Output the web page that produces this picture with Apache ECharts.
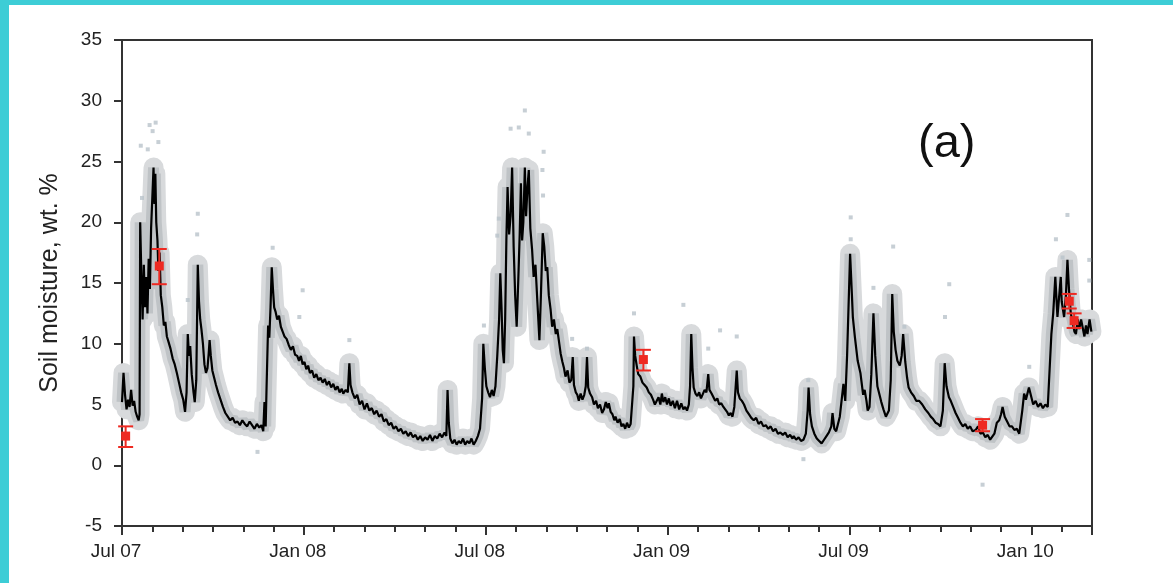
<!DOCTYPE html>
<html>
<head>
<meta charset="utf-8">
<script src="https://cdn.jsdelivr.net/npm/echarts@6/dist/echarts.min.js"></script>
<style>
  html, body { margin: 0; padding: 0; background: #fff; }
  #main { width: 1173px; height: 583px; }
</style>
</head>
<body>
<div id="main"></div>
<script>
var myChart = echarts.init(document.getElementById('main'));

// x = months since 1 Jul 2007, y = soil moisture (wt. %)
var monthLabels = { 0: 'Jul 07', 6: 'Jan 08', 12: 'Jul 08', 18: 'Jan 09', 24: 'Jul 09', 30: 'Jan 10' };

var sensorMean = [
	[0.00,5.2],[0.05,7.6],[0.10,5.8],[0.15,4.6],[0.20,5.4],[0.25,4.8],[0.30,6.2],[0.35,4.9],[0.40,5.3],[0.45,4.4],
	[0.50,4.0],[0.55,3.7],[0.58,4.2],[0.60,20.0],[0.64,15.5],[0.68,12.0],[0.72,16.5],[0.76,13.0],[0.80,15.5],[0.84,12.5],
	[0.88,17.0],[0.92,14.5],[0.96,19.5],[1.00,22.0],[1.04,24.5],[1.07,21.5],[1.10,24.0],[1.13,20.0],[1.17,18.5],[1.20,16.0],
	[1.24,17.5],[1.28,14.0],[1.33,13.0],[1.38,11.5],[1.43,11.8],[1.48,10.6],[1.53,10.2],[1.60,9.6],[1.67,8.8],[1.74,8.3],
	[1.81,7.6],[1.88,6.8],[1.95,6.0],[2.02,5.4],[2.08,4.4],[2.13,6.0],[2.17,10.8],[2.21,9.0],[2.25,9.8],[2.30,7.5],
	[2.36,6.0],[2.40,5.2],[2.45,7.0],[2.50,16.5],[2.54,13.5],[2.58,12.0],[2.62,11.2],[2.67,10.0],[2.72,8.3],[2.77,7.6],
	[2.82,8.0],[2.86,9.2],[2.89,10.3],[2.93,9.0],[2.98,7.8],[3.04,7.2],[3.10,6.6],[3.17,6.0],[3.25,5.4],[3.33,4.8],
	[3.41,4.3],[3.49,4.0],[3.57,3.7],[3.65,3.9],[3.73,3.5],[3.81,3.6],[3.89,3.3],[3.97,3.7],[4.05,3.4],[4.13,3.2],
	[4.21,3.6],[4.29,3.3],[4.37,3.0],[4.45,3.4],[4.53,3.1],[4.60,3.3],[4.66,2.8],[4.70,5.2],[4.74,3.2],[4.77,6.5],
	[4.82,11.5],[4.86,10.5],[4.90,13.0],[4.94,16.3],[4.98,14.5],[5.02,13.0],[5.07,12.6],[5.12,12.0],[5.18,12.3],[5.24,11.4],
	[5.30,11.0],[5.36,10.6],[5.43,10.4],[5.50,9.9],[5.57,9.5],[5.64,9.8],[5.71,9.1],[5.78,9.0],[5.84,8.6],[5.90,9.0],
	[5.96,8.3],[6.02,8.5],[6.08,7.9],[6.14,8.2],[6.20,7.6],[6.27,7.8],[6.34,7.2],[6.41,7.5],[6.48,7.0],[6.55,7.2],
	[6.62,6.8],[6.69,7.1],[6.76,6.6],[6.83,6.9],[6.90,6.4],[6.97,6.7],[7.04,6.2],[7.11,6.5],[7.18,6.0],[7.25,6.3],
	[7.30,5.9],[7.38,6.2],[7.45,6.0],[7.50,8.4],[7.54,6.6],[7.60,6.0],[7.68,5.5],[7.76,5.8],[7.84,5.0],[7.92,5.3],
	[8.00,4.6],[8.08,5.1],[8.16,4.5],[8.24,4.7],[8.32,4.2],[8.40,4.5],[8.48,4.0],[8.56,4.2],[8.64,3.6],[8.72,3.8],
	[8.80,3.3],[8.88,3.5],[8.96,3.0],[9.04,3.2],[9.12,2.8],[9.20,3.0],[9.28,2.6],[9.36,2.8],[9.44,2.4],[9.52,2.7],
	[9.60,2.3],[9.68,2.5],[9.76,2.1],[9.84,2.4],[9.92,2.0],[10.00,2.3],[10.08,2.1],[10.16,2.5],[10.24,2.0],[10.32,2.4],
	[10.40,2.2],[10.48,2.6],[10.56,2.3],[10.64,2.7],[10.70,2.4],[10.74,6.2],[10.78,3.5],[10.83,2.2],[10.90,1.8],[10.97,2.1],
	[11.04,1.7],[11.11,2.0],[11.18,1.8],[11.25,2.2],[11.32,1.7],[11.39,2.0],[11.46,1.8],[11.53,2.2],[11.60,1.7],[11.67,2.0],
	[11.74,2.4],[11.81,3.0],[11.88,5.5],[11.92,10.0],[11.97,8.0],[12.02,6.5],[12.08,6.0],[12.14,5.6],[12.20,6.2],[12.26,5.7],
	[12.32,6.5],[12.38,9.0],[12.44,12.0],[12.48,15.8],[12.52,13.0],[12.56,9.5],[12.60,8.4],[12.64,12.0],[12.68,18.5],[12.72,22.9],
	[12.77,19.0],[12.82,20.5],[12.87,24.5],[12.92,18.0],[12.97,14.0],[13.02,11.4],[13.07,15.0],[13.12,19.0],[13.16,23.2],[13.20,18.5],
	[13.24,20.0],[13.29,24.5],[13.33,20.5],[13.38,23.0],[13.42,24.3],[13.47,19.5],[13.53,17.7],[13.58,15.5],[13.64,16.5],[13.70,13.6],
	[13.77,10.3],[13.82,14.0],[13.88,19.1],[13.93,18.0],[13.98,16.0],[14.03,16.3],[14.08,14.0],[14.14,12.8],[14.19,11.4],[14.25,12.0],
	[14.31,10.8],[14.36,11.2],[14.41,10.3],[14.47,9.2],[14.53,8.5],[14.58,8.0],[14.63,7.3],[14.70,7.8],[14.76,6.8],[14.82,7.0],
	[14.87,8.9],[14.91,6.6],[14.97,6.0],[15.02,5.8],[15.07,5.3],[15.13,5.9],[15.19,5.4],[15.25,5.8],[15.30,6.5],[15.34,8.9],
	[15.38,6.4],[15.44,5.9],[15.51,5.6],[15.57,5.0],[15.64,5.3],[15.70,4.7],[15.77,5.0],[15.84,4.3],[15.90,4.6],[15.96,5.2],
	[16.02,4.7],[16.06,5.1],[16.12,4.4],[16.18,4.2],[16.24,3.7],[16.28,4.0],[16.35,3.5],[16.42,3.8],[16.48,3.2],[16.54,3.4],
	[16.60,3.0],[16.66,3.5],[16.72,3.1],[16.78,3.4],[16.82,3.3],[16.87,6.5],[16.89,10.6],[16.93,9.0],[16.98,8.2],[17.03,7.5],
	[17.10,7.3],[17.17,6.8],[17.24,6.6],[17.31,6.4],[17.38,6.0],[17.45,5.8],[17.52,5.4],[17.58,5.0],[17.64,5.1],[17.70,5.6],
	[17.76,5.0],[17.81,5.9],[17.86,5.2],[17.92,5.6],[17.98,5.0],[18.04,5.5],[18.10,4.9],[18.17,5.3],[18.24,4.7],[18.31,5.3],
	[18.38,4.6],[18.45,5.1],[18.52,4.6],[18.58,4.8],[18.64,4.5],[18.70,5.0],[18.74,6.5],[18.78,10.8],[18.82,8.0],[18.86,6.4],
	[18.92,5.9],[18.98,5.7],[19.04,6.0],[19.10,5.5],[19.16,5.6],[19.22,6.2],[19.28,6.0],[19.34,7.5],[19.38,6.2],[19.45,5.9],
	[19.51,5.9],[19.57,5.3],[19.64,5.5],[19.70,5.0],[19.77,5.1],[19.84,4.8],[19.90,4.6],[19.96,4.4],[20.02,4.1],[20.08,4.3],
	[20.14,4.0],[20.20,4.8],[20.28,7.8],[20.32,6.0],[20.38,5.5],[20.45,5.3],[20.52,5.0],[20.60,4.5],[20.68,4.2],[20.76,3.9],
	[20.84,3.7],[20.92,3.9],[21.00,3.4],[21.08,3.6],[21.16,3.2],[21.24,3.3],[21.32,3.0],[21.40,3.2],[21.48,2.8],[21.56,3.0],
	[21.64,2.6],[21.72,2.7],[21.80,2.5],[21.88,2.7],[21.96,2.3],[22.04,2.5],[22.12,2.2],[22.16,2.4],[22.24,2.1],[22.32,2.3],
	[22.40,2.0],[22.48,2.1],[22.56,2.6],[22.62,4.5],[22.65,6.4],[22.70,4.2],[22.76,3.2],[22.84,2.6],[22.92,2.2],[23.00,2.0],
	[23.08,1.8],[23.16,2.1],[23.24,2.4],[23.32,2.7],[23.40,3.2],[23.44,4.3],[23.50,3.0],[23.56,2.8],[23.62,3.4],[23.68,4.0],
	[23.80,6.7],[23.86,5.3],[23.92,9.0],[24.02,17.4],[24.08,14.0],[24.11,12.2],[24.18,10.5],[24.27,8.6],[24.36,7.6],[24.45,5.8],
	[24.50,6.2],[24.56,5.3],[24.60,4.5],[24.66,4.8],[24.72,7.5],[24.79,12.5],[24.85,9.0],[24.92,6.5],[24.98,5.9],[25.05,5.2],
	[25.12,4.6],[25.20,4.0],[25.30,4.5],[25.36,7.0],[25.41,14.1],[25.46,11.0],[25.52,9.5],[25.58,8.6],[25.66,8.2],[25.72,9.0],
	[25.77,10.8],[25.84,8.5],[25.90,7.2],[25.95,6.4],[26.03,6.0],[26.12,5.7],[26.20,5.3],[26.30,5.3],[26.40,5.0],[26.50,4.6],
	[26.60,4.3],[26.68,4.0],[26.76,3.8],[26.84,3.5],[26.92,3.4],[27.00,3.2],[27.08,4.5],[27.14,8.4],[27.20,6.5],[27.28,5.6],
	[27.34,5.3],[27.42,4.8],[27.50,4.3],[27.58,3.9],[27.66,3.5],[27.74,3.2],[27.82,3.4],[27.90,3.0],[27.98,3.2],[28.06,2.8],
	[28.16,2.9],[28.24,3.2],[28.32,2.6],[28.40,2.7],[28.48,2.3],[28.56,2.5],[28.64,2.1],[28.70,2.1],[28.78,2.6],[28.86,3.5],
	[28.94,3.7],[29.00,4.2],[29.05,4.8],[29.12,4.0],[29.20,3.6],[29.28,3.2],[29.36,3.2],[29.44,2.9],[29.52,3.0],[29.60,2.6],
	[29.66,2.6],[29.70,4.5],[29.76,5.9],[29.82,5.4],[29.92,6.4],[30.00,5.6],[30.06,5.0],[30.14,5.3],[30.22,4.8],[30.30,5.1],
	[30.38,4.7],[30.46,5.0],[30.54,4.8],[30.60,4.9],[30.66,10.8],[30.72,12.5],[30.79,15.5],[30.86,12.2],[30.97,15.5],[31.00,13.5],
	[31.08,12.2],[31.14,14.0],[31.19,16.9],[31.24,14.5],[31.30,12.5],[31.36,11.8],[31.42,11.0],[31.47,10.8],[31.53,12.0],[31.58,11.2],
	[31.64,12.0],[31.69,11.9],[31.75,10.6],[31.80,11.5],[31.85,10.8],[31.92,12.0],[31.98,11.0]
];

// individual probe readings lying away from the mean
var probeOutliers = [
	[0.62,26.3],[0.85,26.0],[0.91,28.0],[1.01,27.5],[1.11,28.2],[1.20,26.6],[0.66,22.0],
	[2.17,13.6],[2.50,20.7],[2.48,19.0],[4.97,17.9],[5.96,14.4],[5.85,12.2],[7.50,10.3],[4.47,1.1],
	[11.94,11.5],[12.38,18.9],[12.43,20.3],[12.82,27.7],[13.09,27.8],[13.29,29.2],[13.42,27.3],
	[13.87,24.3],[13.91,25.8],[13.89,22.2],[14.85,10.4],[15.34,9.6],
	[16.89,12.5],[18.52,13.2],[19.34,9.6],[19.73,11.1],[20.28,10.6],[22.48,0.5],[22.64,7.0],
	[24.04,20.4],[24.04,18.6],[24.79,14.6],[25.44,18.0],[25.81,11.4],[27.15,12.2],[27.29,14.9],
	[28.39,-1.6],[29.93,8.1],[30.81,18.6],[31.03,17.1],[31.19,20.6],[31.91,16.9],[31.91,15.2]
];

// gravimetric samples: [month, mean, low, high]
var gravimetric = [
	[0.12, 2.4, 1.5, 3.2],
	[1.23, 16.4, 14.9, 17.8],
	[17.20, 8.7, 7.8, 9.5],
	[28.39, 3.3, 2.8, 3.8],
	[31.25, 13.5, 12.9, 14.1],
	[31.41, 11.9, 11.3, 12.5]
];

var yTicks = { min: -5, max: 35, step: 5 };

var fontFamily = '"Liberation Sans", Arial, sans-serif';
var axisColor = '#333';

var option = {
	backgroundColor: '#fff',
	textStyle: { fontFamily: fontFamily },
	graphic: [
		{ type: 'rect', shape: { x: 0, y: 0, width: 1173, height: 5 }, style: { fill: '#3dcdd6' } },
		{ type: 'rect', shape: { x: 0, y: 0, width: 9, height: 583 }, style: { fill: '#3dcdd6' } },
		{
			type: 'text', left: 918, top: 121,
			style: { text: '(a)', fontSize: 47, fontFamily: fontFamily, fill: '#111' }
		}
	],
	grid: {
		left: 122, right: 81, top: 40, bottom: 57,
		show: true, borderColor: axisColor, borderWidth: 2
	},
	xAxis: [
		{
			type: 'value', position: 'bottom',
			min: 0, max: 32, interval: 1,
			axisLine: { onZero: false, lineStyle: { color: axisColor, width: 2 } },
			axisTick: { length: 6, lineStyle: { color: axisColor, width: 2 } },
			splitLine: { show: false },
			axisLabel: {
				margin: 16, fontSize: 19, color: '#222', padding: [0, 12, 0, 0],
				formatter: function (v) { return monthLabels[v] || ''; }
			}
		},
		{
			type: 'value', position: 'bottom',
			min: 0, max: 32, interval: 6,
			axisLine: { show: false, onZero: false },
			axisTick: { length: 9, lineStyle: { color: axisColor, width: 2 } },
			axisLabel: { show: false },
			splitLine: { show: false }
		}
	],
	yAxis: {
		type: 'value',
		min: yTicks.min, max: yTicks.max, interval: yTicks.step,
		name: 'Soil moisture, wt. %',
		nameLocation: 'middle',
		nameGap: 59,
		nameTextStyle: { fontSize: 25, color: '#222' },
		axisLine: { show: true, onZero: false, lineStyle: { color: axisColor, width: 2 } },
		axisTick: { show: true, length: 8, lineStyle: { color: axisColor, width: 2 } },
		splitLine: { show: false },
		axisLabel: { margin: 20, fontSize: 19, color: '#222' }
	},
	series: [
		{
			name: 'probe spread',
			type: 'line',
			data: sensorMean,
			showSymbol: false,
			silent: true,
			lineStyle: { color: '#d8dadc', width: 20, cap: 'round', join: 'round' },
			z: 1
		},
		{
			name: 'probe core',
			type: 'line',
			data: sensorMean,
			showSymbol: false,
			silent: true,
			lineStyle: { color: '#bfc3c6', width: 11, cap: 'butt', join: 'bevel' },
			z: 1
		},
		{
			name: 'probe outliers',
			type: 'scatter',
			data: probeOutliers,
			symbol: 'rect',
			symbolSize: 4,
			itemStyle: { color: '#b9c3ca' },
			z: 2
		},
		{
			name: 'sensor mean',
			type: 'line',
			data: sensorMean,
			showSymbol: false,
			lineStyle: { color: '#000', width: 2.2 },
			z: 3
		},
		{
			name: 'gravimetric',
			type: 'custom',
			data: gravimetric,
			z: 4,
			renderItem: function (params, api) {
				var c = api.coord([api.value(0), api.value(1)]);
				var lo = api.coord([api.value(0), api.value(2)]);
				var hi = api.coord([api.value(0), api.value(3)]);
				var cap = 7.5;
				var red = '#ee2a22';
				return {
					type: 'group',
					children: [
						{ type: 'line', shape: { x1: c[0], y1: lo[1], x2: c[0], y2: hi[1] }, style: { stroke: red, lineWidth: 2 } },
						{ type: 'line', shape: { x1: c[0] - cap, y1: lo[1], x2: c[0] + cap, y2: lo[1] }, style: { stroke: red, lineWidth: 2 } },
						{ type: 'line', shape: { x1: c[0] - cap, y1: hi[1], x2: c[0] + cap, y2: hi[1] }, style: { stroke: red, lineWidth: 2 } },
						{ type: 'rect', shape: { x: c[0] - 4.5, y: c[1] - 4.5, width: 9, height: 9 }, style: { fill: red } }
					]
				};
			}
		}
	]
};

myChart.setOption(option);
</script>
</body>
</html>
